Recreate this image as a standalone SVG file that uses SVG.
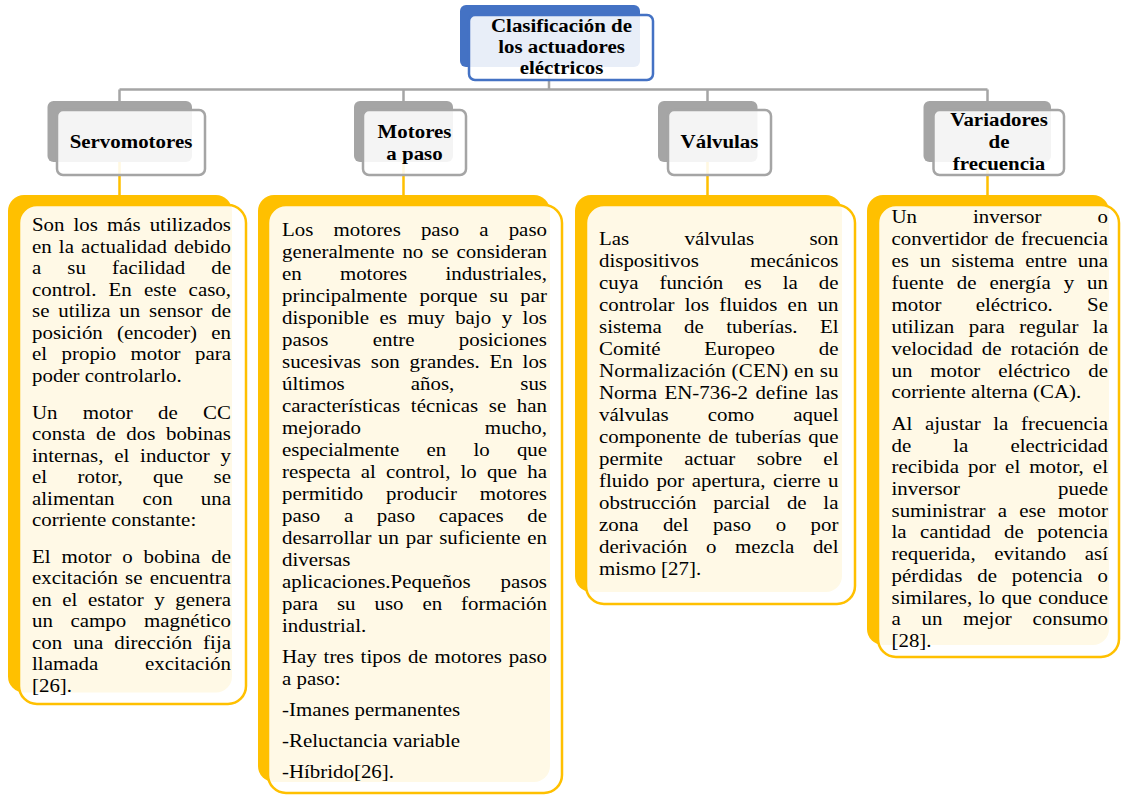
<svg xmlns="http://www.w3.org/2000/svg" width="1121" height="796" viewBox="0 0 1121 796">
<style>
  .body{font-family:"Liberation Serif","Times New Roman",serif;font-size:19px;fill:#000}
  .head{font-family:"Liberation Serif","Times New Roman",serif;font-size:19px;font-weight:bold;fill:#000;text-anchor:middle}
  .cg{stroke:#a5a5a5;stroke-width:2.5;fill:none}
  .cy{stroke:#ffc000;stroke-width:2.5;fill:none}
  .tb{fill:#4472c4}
  .tf{fill:#fff;fill-opacity:.88;stroke:#4472c4;stroke-width:2.5}
  .hb{fill:#a5a5a5}
  .hf{fill:#fff;fill-opacity:.88;stroke:#a5a5a5;stroke-width:2.5}
  .yb{fill:#ffc000}
  .yf{fill:#fff;fill-opacity:.9;stroke:#ffc000;stroke-width:2.5}
</style>
<rect width="1121" height="796" fill="#fff"/>

<!-- connectors: gray tree from the title, yellow drops to the description panels -->
<g id="connectors">
  <path class="cg" d="M549 67V89.5 M119.5 89.5H987.5 M119.5 89.5V101 M403.5 89.5V101 M707.5 89.5V101 M987.5 89.5V101"/>
  <path class="cy" d="M119.5 162V195 M403.5 162V195 M707.5 162V195 M987.5 162V195"/>
</g>

<!-- title -->
<g id="node-root">
  <rect class="tb" x="460" y="5" width="180" height="62" rx="6"/>
  <rect class="tf" x="469" y="15" width="184" height="65" rx="6"/>
  <g transform="translate(561.5 0) scale(1.1 1)">
    <text class="head" x="0" y="32.5">Clasificación de</text>
    <text class="head" x="0" y="53.5">los actuadores</text>
    <text class="head" x="0" y="74.5">eléctricos</text>
  </g>
</g>

<!-- category headers -->
<g id="node-servomotores">
  <rect class="hb" x="47.5" y="101" width="144.5" height="61" rx="6"/>
  <rect class="hf" x="57" y="110" width="148" height="65" rx="6"/>
  <g transform="translate(131 0) scale(1.1 1)"><text class="head" x="0" y="148">Servomotores</text></g>
</g>
<g id="node-motores-paso">
  <rect class="hb" x="354" y="101" width="99" height="61" rx="6"/>
  <rect class="hf" x="363" y="110" width="103" height="65" rx="6"/>
  <g transform="translate(414.5 0) scale(1.1 1)">
    <text class="head" x="0" y="138.5">Motores</text>
    <text class="head" x="0" y="160">a paso</text>
  </g>
</g>
<g id="node-valvulas">
  <rect class="hb" x="658" y="101" width="99.5" height="61" rx="6"/>
  <rect class="hf" x="668" y="110" width="103" height="65" rx="6"/>
  <g transform="translate(719.5 0) scale(1.1 1)"><text class="head" x="0" y="148">Válvulas</text></g>
</g>
<g id="node-variadores">
  <rect class="hb" x="923.5" y="101" width="127.5" height="61" rx="6"/>
  <rect class="hf" x="933.5" y="110" width="130.5" height="65" rx="6"/>
  <g transform="translate(999 0) scale(1.1 1)">
    <text class="head" x="0" y="126">Variadores</text>
    <text class="head" x="0" y="148">de</text>
    <text class="head" x="0" y="170">frecuencia</text>
  </g>
</g>

<!-- description panels -->
<g id="node-servomotores-texto">
  <rect class="yb" x="8" y="195" width="224" height="497.5" rx="16"/>
  <rect class="yf" x="19" y="205" width="227" height="499" rx="18"/>
  <g class="body" transform="translate(32 0) scale(1.1 1)">
    <text y="231.5" word-spacing="3.47" textLength="180.9" lengthAdjust="spacing">Son los más utilizados</text>
    <text y="253" word-spacing="1.73" textLength="180.9" lengthAdjust="spacing">en la actualidad debido</text>
    <text y="274.5" word-spacing="18.97" textLength="180.9" lengthAdjust="spacing">a su facilidad de</text>
    <text y="296" word-spacing="6.3" textLength="180.9" lengthAdjust="spacing">control. En este caso,</text>
    <text y="317.5" word-spacing="3.27" textLength="180.9" lengthAdjust="spacing">se utiliza un sensor de</text>
    <text y="339" word-spacing="8.15" textLength="180.9" lengthAdjust="spacing">posición (encoder) en</text>
    <text y="360.5" word-spacing="8.4" textLength="180.9" lengthAdjust="spacing">el propio motor para</text>
    <text y="382">poder controlarlo.</text>
    <text y="419" word-spacing="18.27" textLength="180.9" lengthAdjust="spacing">Un motor de CC</text>
    <text y="440.5" word-spacing="4.9" textLength="180.9" lengthAdjust="spacing">consta de dos bobinas</text>
    <text y="462" word-spacing="5.07" textLength="180.9" lengthAdjust="spacing">internas, el inductor y</text>
    <text y="483.5" word-spacing="22.67" textLength="180.9" lengthAdjust="spacing">el rotor, que se</text>
    <text y="505" word-spacing="20.8" textLength="180.9" lengthAdjust="spacing">alimentan con una</text>
    <text y="526.5">corriente constante:</text>
    <text y="563" word-spacing="5.12" textLength="180.9" lengthAdjust="spacing">El motor o bobina de</text>
    <text y="584.5" word-spacing="1.8" textLength="180.9" lengthAdjust="spacing">excitación se encuentra</text>
    <text y="606" word-spacing="4.87" textLength="180.9" lengthAdjust="spacing">en el estator y genera</text>
    <text y="627.5" word-spacing="11.3" textLength="180.9" lengthAdjust="spacing">un campo magnético</text>
    <text y="649" word-spacing="5.27" textLength="180.9" lengthAdjust="spacing">con una dirección fija</text>
    <text y="670.5" word-spacing="37.9" textLength="180.9" lengthAdjust="spacing">llamada excitación</text>
    <text y="692">[26].</text>
  </g>
</g>

<g id="node-motores-paso-texto">
  <rect class="yb" x="258" y="195" width="292" height="587" rx="16"/>
  <rect class="yf" x="268" y="205" width="294" height="588" rx="18"/>
  <g class="body" transform="translate(282 0) scale(1.1 1)">
    <text y="236" word-spacing="13.5" textLength="240.9" lengthAdjust="spacing">Los motores paso a paso</text>
    <text y="258" word-spacing="2.4" textLength="240.9" lengthAdjust="spacing">generalmente no se consideran</text>
    <text y="280" word-spacing="29.95" textLength="240.9" lengthAdjust="spacing">en motores industriales,</text>
    <text y="302" word-spacing="6.27" textLength="240.9" lengthAdjust="spacing">principalmente porque su par</text>
    <text y="324" word-spacing="4.8" textLength="240.9" lengthAdjust="spacing">disponible es muy bajo y los</text>
    <text y="346" word-spacing="35.5" textLength="240.9" lengthAdjust="spacing">pasos entre posiciones</text>
    <text y="368" word-spacing="4.15" textLength="240.9" lengthAdjust="spacing">sucesivas son grandes. En los</text>
    <text y="390" word-spacing="55.25" textLength="240.9" lengthAdjust="spacing">últimos años, sus</text>
    <text y="412" word-spacing="5" textLength="240.9" lengthAdjust="spacing">características técnicas se han</text>
    <text y="434" word-spacing="107.9" textLength="240.9" lengthAdjust="spacing">mejorado mucho,</text>
    <text y="456" word-spacing="20.27" textLength="240.9" lengthAdjust="spacing">especialmente en lo que</text>
    <text y="478" word-spacing="4.48" textLength="240.9" lengthAdjust="spacing">respecta al control, lo que ha</text>
    <text y="500" word-spacing="15.95" textLength="240.9" lengthAdjust="spacing">permitido producir motores</text>
    <text y="522" word-spacing="16.7" textLength="240.9" lengthAdjust="spacing">paso a paso capaces de</text>
    <text y="544" word-spacing="1.4" textLength="240.9" lengthAdjust="spacing">desarrollar un par suficiente en</text>
    <text y="566">diversas</text>
    <text y="588" word-spacing="22.4" textLength="240.9" lengthAdjust="spacing">aplicaciones.Pequeños pasos</text>
    <text y="610" word-spacing="12.47" textLength="240.9" lengthAdjust="spacing">para su uso en formación</text>
    <text y="632">industrial.</text>
    <text y="663.5" word-spacing="1.42" textLength="240.9" lengthAdjust="spacing">Hay tres tipos de motores paso</text>
    <text y="685.5">a paso:</text>
    <text y="716">-Imanes permanentes</text>
    <text y="747">-Reluctancia variable</text>
    <text y="778">-Híbrido[26].</text>
  </g>
</g>

<g id="node-valvulas-texto">
  <rect class="yb" x="575" y="195" width="267" height="397" rx="16"/>
  <rect class="yf" x="586" y="205" width="269" height="399" rx="18"/>
  <g class="body" transform="translate(599 0) scale(1.1 1)">
    <text y="245" word-spacing="45.5" textLength="217.7" lengthAdjust="spacing">Las válvulas son</text>
    <text y="267" word-spacing="41.95" textLength="217.7" lengthAdjust="spacing">dispositivos mecánicos</text>
    <text y="289" word-spacing="14.3" textLength="217.7" lengthAdjust="spacing">cuya función es la de</text>
    <text y="311" word-spacing="4.55" textLength="217.7" lengthAdjust="spacing">controlar los fluidos en un</text>
    <text y="333" word-spacing="15.57" textLength="217.7" lengthAdjust="spacing">sistema de tuberías. El</text>
    <text y="355" word-spacing="34.95" textLength="217.7" lengthAdjust="spacing">Comité Europeo de</text>
    <text y="377" word-spacing="0.1" textLength="217.7" lengthAdjust="spacing">Normalización (CEN) en su</text>
    <text y="399" word-spacing="2.03" textLength="217.7" lengthAdjust="spacing">Norma EN-736-2 define las</text>
    <text y="421" word-spacing="30.75" textLength="217.7" lengthAdjust="spacing">válvulas como aquel</text>
    <text y="443" word-spacing="1.7" textLength="217.7" lengthAdjust="spacing">componente de tuberías que</text>
    <text y="465" word-spacing="14.7" textLength="217.7" lengthAdjust="spacing">permite actuar sobre el</text>
    <text y="487" word-spacing="2.05" textLength="217.7" lengthAdjust="spacing">fluido por apertura, cierre u</text>
    <text y="509" word-spacing="10.47" textLength="217.7" lengthAdjust="spacing">obstrucción parcial de la</text>
    <text y="531" word-spacing="17.5" textLength="217.7" lengthAdjust="spacing">zona del paso o por</text>
    <text y="553" word-spacing="12.23" textLength="217.7" lengthAdjust="spacing">derivación o mezcla del</text>
    <text y="575">mismo [27].</text>
  </g>
</g>

<g id="node-variadores-texto">
  <rect class="yb" x="867" y="195" width="242" height="450" rx="16"/>
  <rect class="yf" x="878" y="205" width="241" height="452" rx="18"/>
  <g class="body" transform="translate(891.5 0) scale(1.1 1)">
    <text y="223.3" word-spacing="46.15" textLength="196.8" lengthAdjust="spacing">Un inversor o</text>
    <text y="245.2" word-spacing="1.35" textLength="196.8" lengthAdjust="spacing">convertidor de frecuencia</text>
    <text y="267.1" word-spacing="5.15" textLength="196.8" lengthAdjust="spacing">es un sistema entre una</text>
    <text y="289" word-spacing="7" textLength="196.8" lengthAdjust="spacing">fuente de energía y un</text>
    <text y="310.9" word-spacing="26.35" textLength="196.8" lengthAdjust="spacing">motor eléctrico. Se</text>
    <text y="332.8" word-spacing="8.43" textLength="196.8" lengthAdjust="spacing">utilizan para regular la</text>
    <text y="354.7" word-spacing="3.5" textLength="196.8" lengthAdjust="spacing">velocidad de rotación de</text>
    <text y="376.6" word-spacing="11.6" textLength="196.8" lengthAdjust="spacing">un motor eléctrico de</text>
    <text y="398.5">corriente alterna (CA).</text>
    <text y="430" word-spacing="6.7" textLength="196.8" lengthAdjust="spacing">Al ajustar la frecuencia</text>
    <text y="451.7" word-spacing="33.5" textLength="196.8" lengthAdjust="spacing">de la electricidad</text>
    <text y="473.4" word-spacing="3.42" textLength="196.8" lengthAdjust="spacing">recibida por el motor, el</text>
    <text y="495.1" word-spacing="84.4" textLength="196.8" lengthAdjust="spacing">inversor puede</text>
    <text y="516.8" word-spacing="6.33" textLength="196.8" lengthAdjust="spacing">suministrar a ese motor</text>
    <text y="538.5" word-spacing="7.4" textLength="196.8" lengthAdjust="spacing">la cantidad de potencia</text>
    <text y="560.2" word-spacing="12.15" textLength="196.8" lengthAdjust="spacing">requerida, evitando así</text>
    <text y="581.9" word-spacing="8.8" textLength="196.8" lengthAdjust="spacing">pérdidas de potencia o</text>
    <text y="603.6" word-spacing="1.23" textLength="196.8" lengthAdjust="spacing">similares, lo que conduce</text>
    <text y="625.3" word-spacing="14.07" textLength="196.8" lengthAdjust="spacing">a un mejor consumo</text>
    <text y="647">[28].</text>
  </g>
</g>
</svg>
